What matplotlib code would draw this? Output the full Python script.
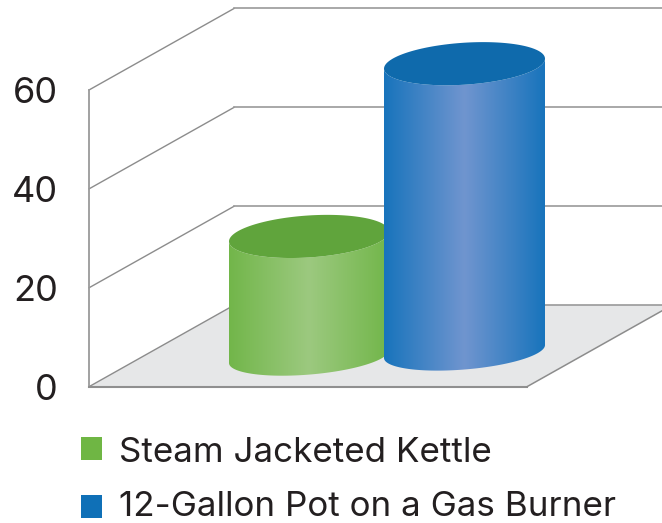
import matplotlib
matplotlib.use("Agg")
import matplotlib.pyplot as plt
import numpy as np
from matplotlib.colors import LinearSegmentedColormap
from matplotlib.patches import Polygon, Rectangle

# --- chart data ---
categories = ["Steam Jacketed Kettle", "12-Gallon Pot on a Gas Burner"]
values = [24.3, 58.2]
y_ticks = [0, 20, 40, 60]

side_colors = [("#72B64A", "#9CC97F"), ("#1874BC", "#7095CF")]
top_colors = ["#60A43C", "#0F6AAC"]
key_colors = ["#6FB644", "#0F70B7"]

W, H = 662, 523
ZERO_PX = 386.7
PX_PER_UNIT = 4.945
TEXT = "#231F20"
LINE = "#8C8C8C"

plt.rcParams["font.family"] = ["Inter", "DejaVu Sans"]


def val(px):
    """Pixel row of the picture -> value on the front of the y axis."""
    return (ZERO_PX - px) / PX_PER_UNIT


def ellipse_pts(cx, cy, a, b, slope, t):
    x = cx + a * np.cos(t)
    y = cy + slope * a * np.cos(t) + b * np.sin(t)
    return x, val(y)


def draw_cylinder(ax, cx, base_py, a, value, side, top, z):
    top_py = base_py - value * PX_PER_UNIT
    # front half of the base, then back up along the front half of the top
    t_base = np.linspace(np.pi, 0, 80)
    t_top = np.linspace(0, np.pi, 80)
    bx, by = ellipse_pts(cx, base_py, a, 18, -0.08, t_base)
    tx, ty = ellipse_pts(cx, top_py, a, 21, -0.062, t_top)
    verts = np.vstack([np.column_stack([bx, by]), np.column_stack([tx, ty]),
                       [[bx[0], by[0]]]])
    body = Polygon(verts, closed=True, transform=ax.transData, fc="none", ec="none")
    ax.add_patch(body)

    cmap = LinearSegmentedColormap.from_list("cyl", [side[0], side[1], side[0]])
    grad = np.linspace(0, 1, 256).reshape(1, -1)
    im = ax.imshow(grad, cmap=cmap, aspect="auto", zorder=z,
                   extent=[cx - a, cx + a, val(base_py + 30), val(top_py - 30)])
    im.set_clip_path(body)

    t = np.linspace(0, 2 * np.pi, 160)
    ex, ey = ellipse_pts(cx, top_py, a, 21, -0.062, t)
    ax.fill(ex, ey, color=top, lw=0, zorder=z + 0.1)


fig = plt.figure(figsize=(W / 100, H / 100), dpi=100)
ax = fig.add_axes([0, 0, 1, 1])

# floor
ax.add_patch(Polygon([(89, val(ZERO_PX)), (527, val(ZERO_PX)), (672, val(305)),
                      (234, val(305))], closed=True, fc="#E6E7E8", ec="none", zorder=1))

# walls and grid lines
depth_x, depth_y = 145, 81.5
for v in y_ticks:
    ax.plot([89, 89 + depth_x], [v, v + depth_y / PX_PER_UNIT], color=LINE, lw=1.0, zorder=2)
    ax.plot([89 + depth_x, W + 5], [v + depth_y / PX_PER_UNIT] * 2, color="#9A9A9A", lw=1.2, zorder=2)
ax.plot([89, 89], [0, y_ticks[-1]], color="#9A9A9A", lw=1.3, zorder=2)
ax.plot([89, 527], [0, 0], color="#8F8F8F", lw=1.5, zorder=2)
ax.plot([527, 527 + depth_x], [0, depth_y / PX_PER_UNIT], color=LINE, lw=1.1, zorder=2)

# cylinders
draw_cylinder(ax, 309, 356.6, 80, values[0], side_colors[0], top_colors[0], 3)
draw_cylinder(ax, 464.5, 351.5, 80.5, values[1], side_colors[1], top_colors[1], 4)

ax.set_xlim(0, W)
ax.set_ylim(val(H), val(0))
for s in ax.spines.values():
    s.set_visible(False)
ax.set_xticks([])
ax.set_yticks(y_ticks)
ax.tick_params(axis="y", length=0, pad=-58 * 0.72, labelsize=26, labelcolor=TEXT)

# key
for cat, col, box_top, base in zip(categories, key_colors, [437, 495], [461.5, 516.5]):
    ax.add_patch(Rectangle((81, val(box_top + 23)), 21, 23 / PX_PER_UNIT, fc=col, ec="none"))
    ax.text(119, val(base), cat, fontsize=25.2, color=TEXT, va="baseline", ha="left")

fig.savefig("out.png", dpi=100)
